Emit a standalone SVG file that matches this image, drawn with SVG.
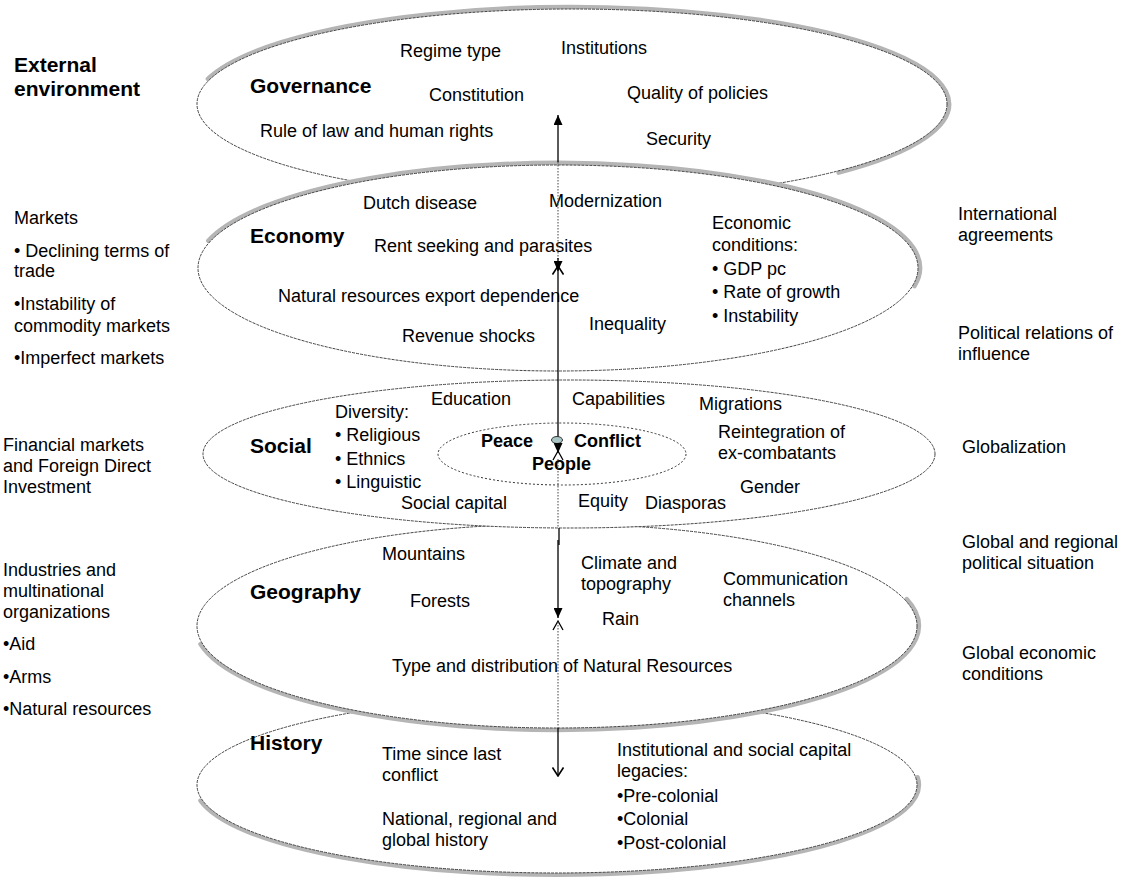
<svg xmlns="http://www.w3.org/2000/svg" width="1121" height="886" viewBox="0 0 1121 886">
<defs>
<style>
text{font-family:"Liberation Sans",Arial,sans-serif;font-size:18px;fill:#000}
.b{font-weight:bold;font-size:21px}
.pb{font-weight:bold;font-size:18px}
.rim{fill:none;stroke:#b5b5b5;stroke-width:4.5;stroke-linecap:round}
.ell{fill:#fff;stroke:#444;stroke-width:1;stroke-dasharray:3 1}
.inner{fill:#fff;stroke:#333;stroke-width:1;stroke-dasharray:2 2}
.sl{stroke:#000;stroke-width:1.3;fill:none}
.dl{stroke:#444;stroke-width:1;stroke-dasharray:1.5 1.5;fill:none}
</style>
<marker id="fa" viewBox="0 0 10 9" refX="10" refY="4.5" markerWidth="10" markerHeight="9" orient="auto" markerUnits="userSpaceOnUse"><path d="M0,0 L10,4.5 L0,9 z" fill="#000"/></marker>
<marker id="oa" viewBox="0 0 10 12" refX="9" refY="6" markerWidth="10" markerHeight="12" orient="auto" markerUnits="userSpaceOnUse"><path d="M0.5,0.5 L9,6 L0.5,11.5" fill="none" stroke="#000" stroke-width="1.6"/></marker>
</defs>
<rect width="1121" height="886" fill="#fff"/>

<g id="governance">
<path class="rim" d="M207.9,78.9 A377,97 0 1 1 838.6,172.6"/>
<ellipse class="ell" cx="572" cy="104" rx="375" ry="95"/>
<text x="400" y="57">Regime type</text>
<text x="561" y="54">Institutions</text>
<text class="b" x="250" y="93">Governance</text>
<text x="429" y="101">Constitution</text>
<text x="627" y="99">Quality of policies</text>
<text x="260" y="137">Rule of law and human rights</text>
<text x="646" y="145">Security</text>
</g>

<g id="economy">
<path class="rim" d="M208.3,240.8 A362,105 0 0 1 914.5,286.2"/>
<ellipse class="ell" cx="558" cy="268" rx="360" ry="103"/>
<text x="363" y="209">Dutch disease</text>
<text x="549" y="207">Modernization</text>
<text x="712" y="229">Economic</text>
<text x="712" y="251">conditions:</text>
<text x="712" y="275">• GDP pc</text>
<text x="712" y="298">• Rate of growth</text>
<text x="712" y="322">• Instability</text>
<text class="b" x="250" y="243">Economy</text>
<text x="374" y="252">Rent seeking and parasites</text>
<text x="278" y="302">Natural resources export dependence</text>
<text x="589" y="330">Inequality</text>
<text x="402" y="342">Revenue shocks</text>
</g>

<g id="history">
<path class="rim" d="M917.6,777.2 A362,90 0 0 1 200.5,800.6"/>
<ellipse class="ell" cx="557" cy="785" rx="360" ry="88"/>
<text class="b" x="250" y="750">History</text>
<text x="382" y="760">Time since last</text>
<text x="382" y="781">conflict</text>
<text x="617" y="756">Institutional and social capital</text>
<text x="617" y="777">legacies:</text>
<text x="617" y="802">•Pre-colonial</text>
<text x="617" y="825">•Colonial</text>
<text x="617" y="849">•Post-colonial</text>
<text x="382" y="825">National, regional and</text>
<text x="382" y="846">global history</text>
</g>

<g id="geography">
<path class="rim" d="M906.7,599.1 A362,104 0 1 1 200.5,644.1"/>
<ellipse class="ell" cx="557" cy="626" rx="360" ry="102"/>
<text x="382" y="560">Mountains</text>
<text x="581" y="569">Climate and</text>
<text x="581" y="590">topography</text>
<text x="723" y="585">Communication</text>
<text x="723" y="606">channels</text>
<text class="b" x="250" y="599">Geography</text>
<text x="410" y="607">Forests</text>
<text x="602" y="625">Rain</text>
<text x="392" y="672">Type and distribution of Natural Resources</text>
</g>

<g id="social">
<ellipse class="ell" cx="569" cy="454" rx="366" ry="74"/>
<text x="431" y="405">Education</text>
<text x="572" y="405">Capabilities</text>
<text x="699" y="410">Migrations</text>
<text x="335" y="418">Diversity:</text>
<text x="335" y="441">• Religious</text>
<text x="335" y="465">• Ethnics</text>
<text x="335" y="488">• Linguistic</text>
<text class="b" x="250" y="453">Social</text>
<text x="718" y="438">Reintegration of</text>
<text x="718" y="459">ex-combatants</text>
<text x="740" y="493">Gender</text>
<text x="401" y="509">Social capital</text>
<text x="578" y="507">Equity</text>
<text x="645" y="509">Diasporas</text>
</g>

<g id="people">
<ellipse class="inner" cx="562" cy="454" rx="124" ry="31"/>
<text class="pb" x="481" y="447">Peace</text>
<text class="pb" x="574" y="447">Conflict</text>
<text class="pb" x="532" y="470">People</text>
</g>

<g id="external">
<text class="b" x="14" y="72">External</text>
<text class="b" x="14" y="96">environment</text>
<text x="14" y="224">Markets</text>
<text x="14" y="257">• Declining terms of</text>
<text x="14" y="277">trade</text>
<text x="14" y="310">•Instability of</text>
<text x="14" y="332">commodity markets</text>
<text x="14" y="364">•Imperfect markets</text>
<text x="3" y="451">Financial markets</text>
<text x="3" y="472">and Foreign Direct</text>
<text x="3" y="493">Investment</text>
<text x="3" y="576">Industries and</text>
<text x="3" y="597">multinational</text>
<text x="3" y="618">organizations</text>
<text x="3" y="650">•Aid</text>
<text x="3" y="683">•Arms</text>
<text x="3" y="715">•Natural resources</text>
<text x="958" y="220">International</text>
<text x="958" y="241">agreements</text>
<text x="958" y="339">Political relations of</text>
<text x="958" y="360">influence</text>
<text x="962" y="453">Globalization</text>
<text x="962" y="548">Global and regional</text>
<text x="962" y="569">political situation</text>
<text x="962" y="659">Global economic</text>
<text x="962" y="680">conditions</text>
</g>

<g id="connectors">
<path class="sl" d="M558,162 L558,115" marker-end="url(#fa)"/>
<path class="dl" d="M558,162 L558,262"/>
<path class="sl" d="M558,258 L558,271" marker-end="url(#fa)"/>
<path class="sl" d="M558,437 L558,266" marker-end="url(#oa)"/>
<ellipse cx="557" cy="440" rx="5.5" ry="3.5" fill="#a9c4c4" stroke="#333" stroke-width="1"/>
<path class="sl" d="M558,444 L558,453" marker-end="url(#fa)"/>
<path class="sl" d="M553,460 L558,451 L563,460"/>
<path class="dl" d="M558,459 L558,528"/>
<path class="sl" d="M559,528 L559,545"/>
<path class="sl" d="M558,540 L558,618" marker-end="url(#fa)"/>
<path class="sl" d="M553,630 L558,621 L563,630" stroke-width="1.6"/>
<path class="dl" d="M558,622 L558,728"/>
<path class="sl" d="M558,728 L558,776" marker-end="url(#oa)"/>
</g>
</svg>
